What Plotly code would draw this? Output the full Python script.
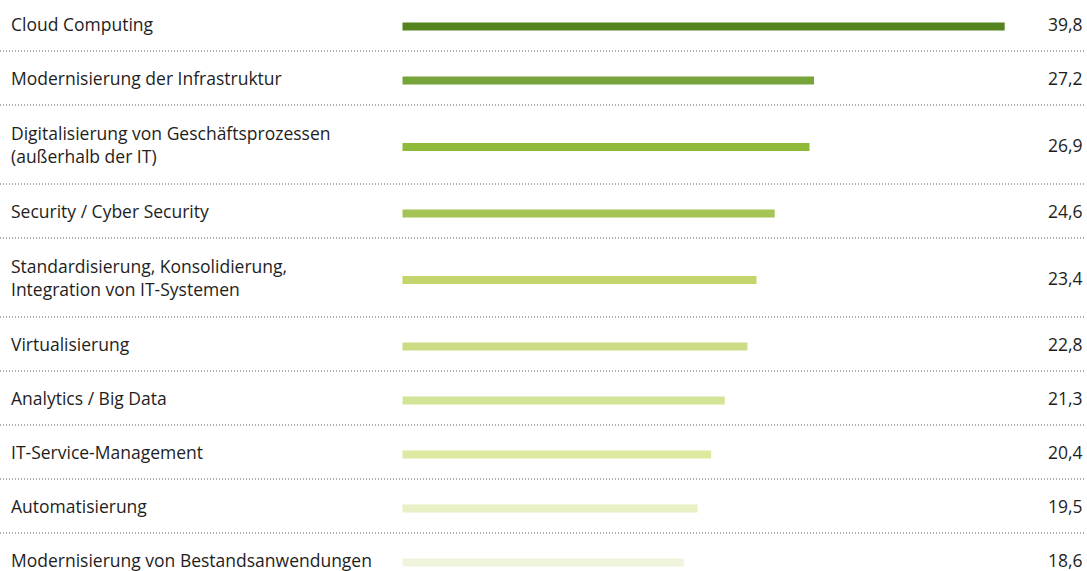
import plotly.graph_objects as go

# Survey topics and their shares (percent)
categories = [
    "Cloud Computing",
    "Modernisierung der Infrastruktur",
    "Digitalisierung von Geschäftsprozessen<br>(außerhalb der IT)",
    "Security / Cyber Security",
    "Standardisierung, Konsolidierung,<br>Integration von IT-Systemen",
    "Virtualisierung",
    "Analytics / Big Data",
    "IT-Service-Management",
    "Automatisierung",
    "Modernisierung von Bestandsanwendungen",
]
values = [39.8, 27.2, 26.9, 24.6, 23.4, 22.8, 21.3, 20.4, 19.5, 18.6]
value_labels = ["39,8", "27,2", "26,9", "24,6", "23,4", "22,8", "21,3", "20,4", "19,5", "18,6"]
colors = [
    "#54841e", "#77a43a", "#8fba3a", "#a5c455", "#c2d66c",
    "#cadd85", "#d4e496", "#dde8a0", "#e8f0c5", "#eff5dc",
]

W, H = 1087, 571
FONT = "Open Sans"
FONT_SIZE = 17.5
TEXT_COLOR = "#1e1e1e"

# Row layout in pixel units: two-line labels get taller rows
SINGLE_ROW, DOUBLE_ROW = 54, 79
FIRST_TOP = -3
row_heights = [DOUBLE_ROW if "<br>" in c else SINGLE_ROW for c in categories]
row_top = []
acc = FIRST_TOP
for h in row_heights:
    row_top.append(acc)
    acc += h
row_center = [t + h / 2 for t, h in zip(row_top, row_heights)]
bar_center = [c + 2.5 for c in row_center]
boundaries = [t + h for t, h in zip(row_top, row_heights)][:-1]

# Horizontal scale: zero at x=402.5px, 15.13px per percentage point
X0_PX, PX_PER_UNIT = 402.5, 15.13
x_range = [-X0_PX / PX_PER_UNIT, (W - X0_PX) / PX_PER_UNIT]

fig = go.Figure()
fig.add_trace(go.Bar(
    x=values,
    y=bar_center,
    orientation="h",
    width=8,
    marker=dict(color=colors, line=dict(width=0)),
    hoverinfo="skip",
))

# Category labels on the left
for cat, yc in zip(categories, row_center):
    fig.add_annotation(
        x=9 / W, xref="paper", y=yc, yref="y",
        text=cat, showarrow=False, xanchor="left", yanchor="middle",
        align="left", font=dict(family=FONT, size=FONT_SIZE, color=TEXT_COLOR),
    )

# Values on the right
for lab, yc in zip(value_labels, row_center):
    fig.add_annotation(
        x=1085 / W, xref="paper", y=yc, yref="y",
        text=lab, showarrow=False, xanchor="right", yanchor="middle",
        font=dict(family=FONT, size=FONT_SIZE, color=TEXT_COLOR),
    )

# Dotted separators between rows
for b in boundaries:
    fig.add_shape(
        type="line", xref="paper", x0=0, x1=1084 / W, yref="y", y0=b, y1=b,
        line=dict(color="#5a5a5a", width=1, dash="1px,2px"),
    )

fig.update_layout(
    width=W, height=H,
    margin=dict(l=0, r=0, t=0, b=0),
    paper_bgcolor="white", plot_bgcolor="white",
    showlegend=False,
    xaxis=dict(range=x_range, visible=False, fixedrange=True),
    yaxis=dict(range=[H, 0], visible=False, fixedrange=True),
)

fig.write_html("out.html")
